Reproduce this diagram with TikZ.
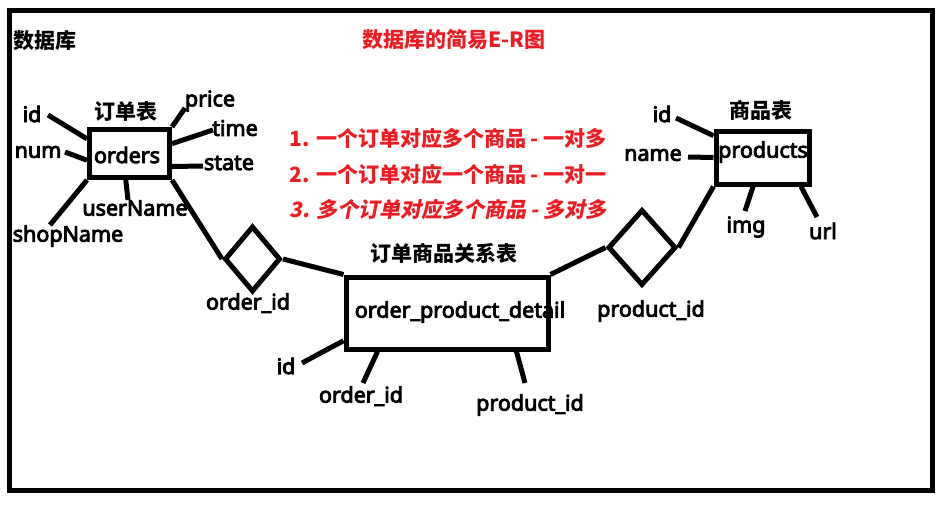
\documentclass[tikz,border=0pt]{standalone}
\usepackage{fontspec}
\setmainfont{Noto Sans}[FakeBold=4]
\newfontfamily\cjk{Noto Sans CJK SC}
\newfontfamily\cjkslant{Noto Sans CJK SC}[FakeSlant=0.2]
\usetikzlibrary{shapes.geometric}
\definecolor{erred}{RGB}{237,28,36}

\begin{document}
\begin{tikzpicture}[x=1pt, y=-1pt, line width=5pt,
    lbl/.style={font=\fontsize{21.5}{24}\selectfont\bfseries, inner sep=0pt},
    zh/.style={font=\fontsize{21}{23}\selectfont\cjk\bfseries, inner sep=0pt},
    entity/.style={draw, inner sep=0pt},
    rel/.style={draw, diamond, inner sep=0pt}]
    \useasboundingbox (0,0) rectangle (940,504);
    \draw (9,10) rectangle (932,490);
    \node[zh] (db) at (45,41) {数据库};
    \node[zh, erred] (title) at (454,40) {数据库的简易E-R图};
    % Relations text
    \node[zh, erred, anchor=west] (r1) at (287,138) {1. 一个订单对应多个商品 - 一对多};
    \node[zh, erred, anchor=west] (r2) at (287,174) {2. 一个订单对应一个商品 - 一对一};
    \node[zh, erred, anchor=west, font=\fontsize{21}{23}\selectfont\cjkslant\bfseries] (r3) at (287,209) {3. 多个订单对应多个商品 - 多对多};
    % Entities
    \node[entity, minimum width=80, minimum height=48] (orders) at (129.5,153.5) {};
    \node[entity, minimum width=93, minimum height=53] (products) at (762.5,157.5) {};
    \node[entity, minimum width=202, minimum height=72] (detail) at (447,313) {};
    \node[lbl] (ordersname) at (127,155) {orders};
    \node[lbl] (productsname) at (763,152) {products};
    \node[lbl] (detailname) at (460,312) {order\_product\_detail};
    \node[zh] (orderst) at (126,112) {订单表};
    \node[zh] (productst) at (761,110) {商品表};
    \node[zh] (detailt) at (444,253) {订单商品关系表};
    % Relationships
    \node[rel, minimum width=56, minimum height=66] (rel1) at (252.5,259) {};
    \node[rel, minimum width=68, minimum height=76] (rel2) at (642,247.5) {};
    \node[lbl] (rel1key) at (248,303) {order\_id};
    \node[lbl] (rel2key) at (651,311) {product\_id};
    \draw (orders.south east) -- (rel1.west);
    \draw (rel1.east) -- (detail.north west);
    \draw (detail.north east) -- (rel2.west);
    \draw (rel2.east) -- (products.south west);
    % Attributes of orders
    \node[lbl] (oid) at (32,114) {id}; \node[lbl] (onum) at (38,152) {num};
    \node[lbl] (oshop) at (68,236) {shopName}; \node[lbl] (ouser) at (135,208) {userName};
    \node[lbl] (oprice) at (210,101) {price}; \node[lbl] (otime) at (235,128) {time};
    \node[lbl] (ostate) at (229,163) {state};
    \coordinate (oidend) at (48,115); \coordinate (onumend) at (65,152);
    \coordinate (oshopend) at (50,225); \coordinate (ouserend) at (128,200);
    \coordinate (opriceend) at (185,108); \coordinate (otimeend) at (213,130);
    \coordinate (ostateend) at (203,166);
    \draw (oidend) -- (orders.161); \draw (onumend) -- (orders.189);
    \draw (oshopend) -- (orders.south west); \draw (ouserend) -- (orders.262);
    \draw (opriceend) -- (orders.north east); \draw (otimeend) -- (orders.13);
    \draw (ostateend) -- (orders.343);
    % Attributes of order_product_detail
    \node[lbl] (did) at (286,366) {id}; \node[lbl] (doid) at (361,396) {order\_id};
    \node[lbl] (dpid) at (530,405) {product\_id};
    \coordinate (didend) at (302,363); \coordinate (doidend) at (363,383);
    \coordinate (dpidend) at (525,383);
    \draw (didend) -- (detail.195); \draw (doidend) -- (detail.209);
    \draw (dpidend) -- (detail.331);
    % Attributes of products
    \node[lbl] (pid) at (662,114) {id}; \node[lbl] (pname) at (653,155) {name};
    \node[lbl] (pimg) at (746,227) {img}; \node[lbl] (purl) at (823,231) {url};
    \coordinate (pidend) at (676,118); \coordinate (pnameend) at (688,157);
    \coordinate (pimgend) at (745,211); \coordinate (purlend) at (817,217);
    \draw (pidend) -- (products.156); \draw (pnameend) -- (products.west);
    \draw (pimgend) -- (products.252); \draw (purlend) -- (products.323);
\end{tikzpicture}
\end{document}
